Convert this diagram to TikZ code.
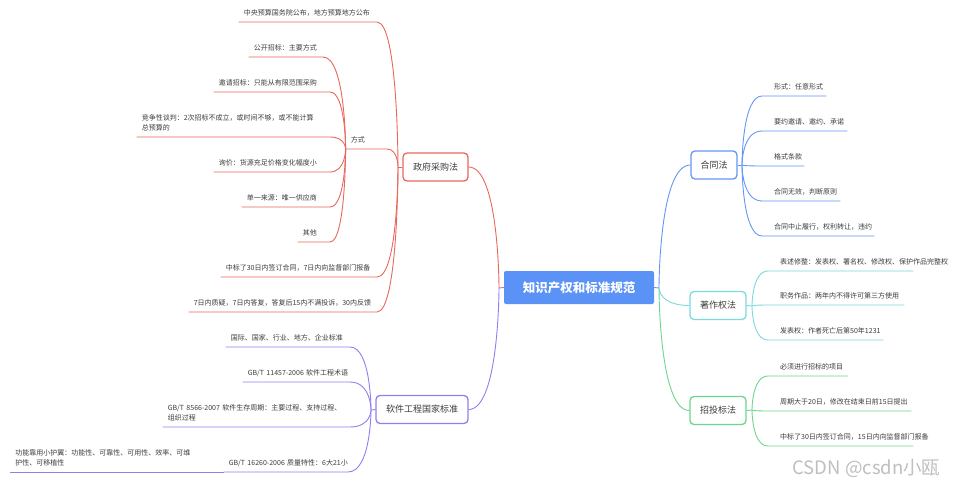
\documentclass[tikz,border=0pt]{standalone}
\usepackage{fontspec}
\setmainfont{Noto Sans CJK SC}
\usepackage{tikz}
\usetikzlibrary{positioning, calc}
\definecolor{rootblue}{RGB}{90,146,245}
\definecolor{govred}{RGB}{232,104,92}
\definecolor{swpurple}{RGB}{143,128,240}
\definecolor{htblue}{RGB}{100,152,245}
\definecolor{zzcyan}{RGB}{122,218,222}
\definecolor{tbgreen}{RGB}{109,214,141}
\definecolor{txtgray}{RGB}{60,60,60}
\tikzset{
  root/.style={fill=rootblue, rounded corners=2pt, text=white,
    font=\fontsize{12.5}{15}\selectfont\bfseries,
    minimum width=150pt, minimum height=33pt, inner sep=0pt},
  topic/.style={draw=#1, fill=white, line width=1.3pt, rounded corners=4pt,
    text=txtgray, font=\fontsize{9}{11}\selectfont, minimum height=28pt, inner sep=0pt},
  leaf/.style={text=txtgray, font=\fontsize{7}{10}\selectfont, align=left,
    inner ysep=4.8pt, text height=5.5pt, text depth=1.5pt},
  leafL/.style={leaf, anchor=south east, inner xsep=5pt, text width=#1},
  leafR/.style={leaf, anchor=south west, inner xsep=12pt, text width=#1},
  twoline/.style={text depth=11.5pt},
  link/.style={draw=#1, line width=0.9pt},
}
\begin{document}
\begin{tikzpicture}[x=1pt, y=-1pt]
\fill[white] (0,0) rectangle (958,487);
\useasboundingbox (0,0) rectangle (958,487);

% root and main topics
\node[root] (root) at (579,287.5) {知识产权和标准规范};
\node[topic=govred, minimum width=65pt] (gov) at (435.5,167) {政府采购法};
\node[topic=swpurple, minimum width=92pt] (sw) at (422,409.5) {软件工程国家标准};
\node[topic=htblue, minimum width=46pt] (ht) at (714,165) {合同法};
\node[topic=zzcyan, minimum width=56pt] (zz) at (718,305.5) {著作权法};
\node[topic=tbgreen, minimum width=56pt] (tb) at (718,410.5) {招投标法};

\coordinate (cl) at (499,288);
\coordinate (cr) at (659,288);
\coordinate (gj) at (398,167);
\coordinate (sj) at (371,410);
\coordinate (hj) at (742,165);
\coordinate (zj) at (752,306);
\coordinate (tj) at (752,410);

% 政府采购法
\node[leafL=128pt] (g1) at (377,22) {中央预算国务院公布，地方预算地方公布};
\node[leafL=31pt] (fs) at (387,149) {方式};
\node[leafL=146pt] (g3) at (377,277) {中标了30日内签订合同，7日内向监督部门报备};
\node[leafL=178pt] (g4) at (377,312) {7日内质疑，7日内答复，答复后15内不满投诉，30内反馈};
\node[leafL=64pt] (f1) at (323,57) {公开招标：主要方式};
\node[leafL=106pt] (f2) at (330,92) {邀请招标：只能从有限范围采购};
\node[leafL=183pt, twoline] (f3) at (330,137) {竞争性谈判：2次招标不成立，或时间不够，或不能计算\\总预算的};
\node[leafL=106pt] (f4) at (330,172) {询价：货源充足价格变化幅度小};
\node[leafL=78pt] (f5) at (330,207) {单一来源：唯一供应商};
\node[leafL=22pt] (f6) at (330,242) {其他};

% 软件工程国家标准
\node[leafL=114pt] (s1) at (350,347) {国际、国家、行业、地方、企业标准};
\node[leafL=97pt] (s2) at (350,382) {\mbox{GB/T 11457-2006 软件工程术语}};
\node[leafL=177pt, twoline] (s3) at (350,427) {\mbox{GB/T 8566-2007 软件生存周期：主要过程、支持过程、}\\组织过程};
\node[leafL=114pt] (s4) at (348,472) {\mbox{GB/T 16260-2006 质量特性：6大21小}};
\node[leafL=203pt, twoline] (s4c) at (s4.south west) {功能靠用小护翼：功能性、可靠性、可用性、效率、可维\\护性、可移植性};

% 合同法
\node[leafR=40pt] (h1) at (762,96) {形式：任意形式};
\node[leafR=61pt] (h2) at (762,131) {要约邀请、邀约、承诺};
\node[leafR=18pt] (h3) at (762,166) {格式条款};
\node[leafR=54pt] (h4) at (762,201) {合同无效，判断原则};
\node[leafR=88pt] (h5) at (762,236) {合同中止履行，权利转让，违约};

% 著作权法
\node[leafR=121pt] (z1) at (768,271) {表述修整：发表权、署名权、修改权、保护作品完整权};
\node[leafR=112pt] (z2) at (768,305) {职务作品：两年内不得许可第三方使用};
\node[leafR=91pt] (z3) at (768,340) {发表权：作者死亡后第50年1231};

% 招投标法
\node[leafR=56pt] (t1) at (768,376) {必须进行招标的项目};
\node[leafR=119pt] (t2) at (768,411) {周期大于20日，修改在结束日前15日提出};
\node[leafR=121pt] (t3) at (768,446) {中标了30日内签订合同，15日内向监督部门报备};

% connectors
\draw[link=govred] (gov.east) .. controls (cl |- gov.east) and (cl) .. (cl) -- (root.west);
\draw[link=swpurple] (sw.east) .. controls (cl |- sw.east) and (cl) .. (cl);
\draw[link=htblue] (root.east) -- (cr) .. controls (cr) and (cr |- ht.west) .. (ht.west);
\draw[link=zzcyan] (cr) .. controls (cr) and (cr |- zz.west) .. (zz.west);
\draw[link=tbgreen] (cr) .. controls (cr) and (cr |- tb.west) .. (tb.west);

\draw[link=govred] (gov.west) -- (gj);
\foreach \n in {g1,fs,g3,g4}
  \draw[link=govred] (\n.south west) -- (\n.south east) .. controls (gj |- \n.south east) and (gj) .. (gj);
\foreach \n in {f1,f2,f3,f4,f5,f6}
  \draw[link=govred] (\n.south west) -- (\n.south east) .. controls (fs.south west |- \n.south east) and (fs.south west) .. (fs.south west);

\draw[link=swpurple] (sw.west) -- (sj);
\foreach \n in {s1,s2,s3,s4}
  \draw[link=swpurple] (\n.south west) -- (\n.south east) .. controls (sj |- \n.south east) and (sj) .. (sj);
\draw[link=swpurple] (s4c.south west) -- (s4c.south east);

\draw[link=htblue] (ht.east) -- (hj);
\foreach \n in {h1,h2,h3,h4,h5}
  \draw[link=htblue] (hj) .. controls (hj) and (hj |- \n.south west) .. (\n.south west) -- (\n.south east);
\draw[link=zzcyan] (zz.east) -- (zj);
\foreach \n in {z1,z2,z3}
  \draw[link=zzcyan] (zj) .. controls (zj) and (zj |- \n.south west) .. (\n.south west) -- (\n.south east);
\draw[link=tbgreen] (tb.east) -- (tj);
\foreach \n in {t1,t2,t3}
  \draw[link=tbgreen] (tj) .. controls (tj) and (tj |- \n.south west) .. (\n.south west) -- (\n.south east);

\node[anchor=east, text=gray!50, font=\fontsize{18.5}{20}\selectfont] (wm) at (944,468) {CSDN @csdn小瓯};
\end{tikzpicture}
\end{document}
